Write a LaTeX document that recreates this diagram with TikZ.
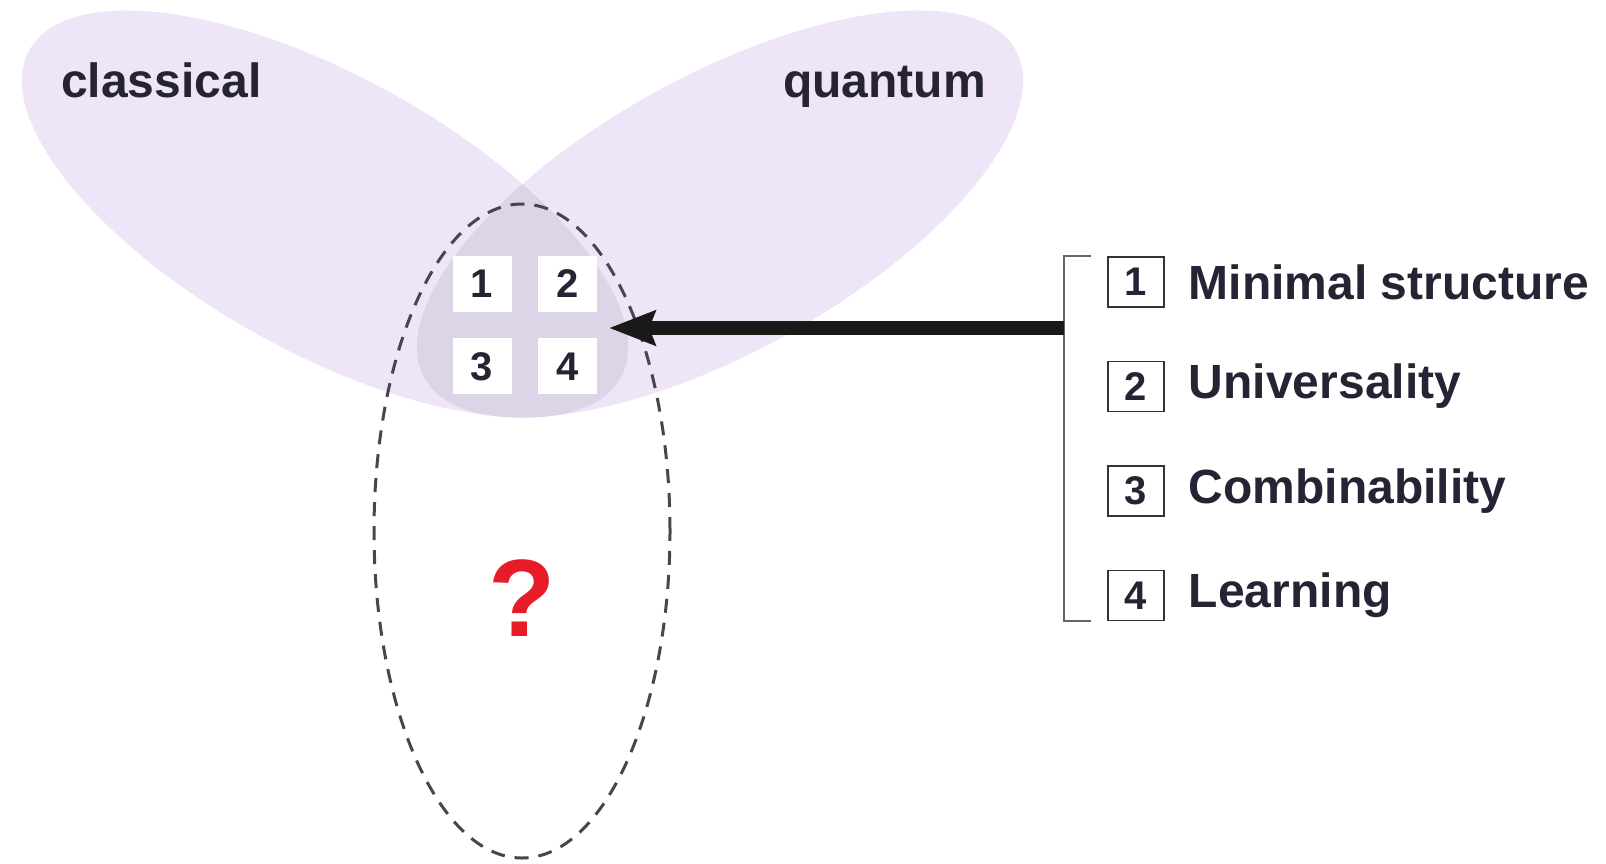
\documentclass[tikz,border=0pt]{standalone}
\usepackage{fontspec}
\setmainfont{Liberation Sans}
\usepackage{xcolor}
\usepackage{tikz}
\usetikzlibrary{
  arrows.meta,
  positioning,
  calc
}
\definecolor{lobefill}{RGB}{238, 229, 248}
\definecolor{overlapfill}{RGB}{219, 213, 231}
\definecolor{inkdark}{RGB}{38, 36, 52}
\definecolor{qred}{RGB}{232, 28, 40}
\definecolor{dashgray}{RGB}{70, 70, 78}
\tikzset{
  lobe/.style = {fill=lobefill, draw=none},
  numbox/.style = {
    rectangle, fill=white, minimum width=59pt, minimum height=56pt,
    inner sep=0pt, text=inkdark, font=\fontsize{40}{40}\selectfont\bfseries
  },
  keybox/.style = {
    rectangle, draw=black!80, line width=1.5pt, fill=white,
    minimum width=56pt, minimum height=50pt,
    inner sep=0pt, text=inkdark, font=\fontsize{40}{40}\selectfont\bfseries
  },
  keylbl/.style = {
    inner sep=0pt, text=inkdark, font=\fontsize{48}{48}\selectfont\bfseries
  },
  setlbl/.style = {
    inner sep=0pt, text=inkdark, font=\fontsize{48}{48}\selectfont\bfseries
  },
  bigarr/.style = {-{Stealth[length=46pt, width=34pt, inset=6pt]},
    draw=black!90, line width=14pt},
  brace/.style = {draw=black!60, line width=2pt},
  unknown/.style = {draw=dashgray, line width=3pt, dash pattern=on 14pt off 10pt},
}

\begin{document}
\begin{tikzpicture}[x=1pt, y=-1pt]
  \useasboundingbox (0,0) rectangle (1606,863);

  % Lobes: classical (left), quantum (right)
  \fill[lobe, rotate around={-29:(325,214)}] (325,214)
    ellipse [x radius=338pt, y radius=138pt];
  \fill[lobe, rotate around={29:(720,214)}] (720,214)
    ellipse [x radius=338pt, y radius=138pt];
  \begin{scope}
    \clip[rotate around={-29:(325,214)}] (325,214)
      ellipse [x radius=338pt, y radius=138pt];
    \fill[overlapfill, rotate around={29:(720,214)}] (720,214)
      ellipse [x radius=338pt, y radius=138pt];
  \end{scope}

  \node[setlbl, anchor=base west] (classical) at (61,97) {classical};
  \node[setlbl, anchor=base west] (quantum) at (783,97) {quantum};

  % Unknown region
  \draw[unknown] (522,531) ellipse [x radius=148pt, y radius=327pt];
  \node[font=\fontsize{110}{110}\selectfont\bfseries, text=qred] (what) at (522,598) {?};

  % Properties in the overlap
  \node[numbox] (c1) at (482,284) {1};
  \node[numbox, right=26pt of c1] (c2) {2};
  \node[numbox, below=26pt of c1] (c3) {3};
  \node[numbox, right=26pt of c3] (c4) {4};

  % Key (right)
  \node[keybox] (k1) at (1136,282) {1};
  \node[keybox, below=53pt of k1] (k2) {2};
  \node[keybox, below=53pt of k2] (k3) {3};
  \node[keybox, below=53pt of k3] (k4) {4};
  \node[keylbl, right=24pt of k1] (t1) {Minimal structure};
  \node[keylbl, right=24pt of k2] (t2) {Universality};
  \node[keylbl, right=24pt of k3] (t3) {Combinability};
  \node[keylbl, right=24pt of k4] (t4) {Learning};

  % Bracket and arrow
  \draw[brace] ([xshift=-16pt]k1.north west) -- ([xshift=-43pt]k1.north west)
    -- ([xshift=-43pt]k4.south west) -- ([xshift=-16pt]k4.south west);
  \coordinate (hub) at ([xshift=-43pt]k1.west |- 0,328);
  \coordinate (tip) at (609,328);
  \draw[bigarr] (hub) -- (tip);

\end{tikzpicture}
\end{document}
